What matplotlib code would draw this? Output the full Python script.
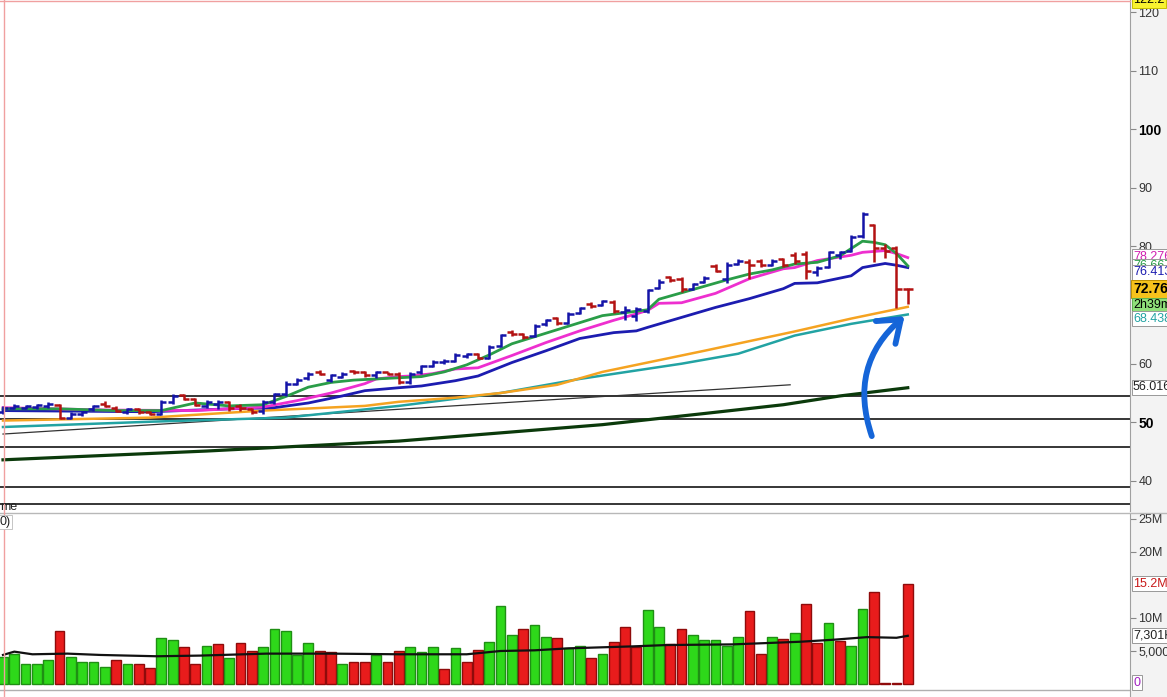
import numpy as np
import matplotlib.pyplot as plt
from matplotlib.patches import FancyArrowPatch

plt.rcParams['font.family'] = ['Liberation Sans', 'DejaVu Sans']

# daily OHLC bars (81 sessions)
opens = [51.8, 52.5, 52.5, 52.6, 52.8, 53.0, 50.8, 51.5, 52.2, 53.2,
         52.5, 51.8, 52.2, 51.8, 51.5, 53.5, 54.6, 54.0, 52.8, 53.2,
         53.5, 52.8, 52.3, 52.0, 53.5, 54.8, 56.5, 57.5, 58.6, 57.2,
         57.8, 58.8, 58.5, 58.0, 58.5, 58.2, 56.8, 58.5, 59.6, 60.3,
         60.5, 61.3, 61.6, 61.0, 63.0, 65.4, 65.0, 64.8, 66.8, 67.8,
         67.0, 68.6, 70.2, 70.0, 70.5, 68.8, 68.2, 69.0, 73.0, 74.8,
         74.5, 72.8, 74.0, 76.6, 74.5, 77.0, 77.4, 77.5, 76.9, 77.8,
         78.5, 78.8, 75.6, 76.5, 78.5, 79.2, 81.8, 83.6, 79.8, 79.8, 72.8]
highs = [52.8, 53.2, 53.0, 53.2, 53.5, 53.2, 51.8, 52.0, 53.0, 53.6,
         52.8, 52.5, 52.5, 52.0, 53.8, 54.8, 54.8, 54.2, 53.8, 53.8,
         53.7, 53.2, 52.5, 53.8, 55.0, 57.0, 57.5, 58.5, 59.0, 58.3,
         58.5, 59.0, 58.7, 58.8, 58.6, 58.5, 58.5, 59.8, 60.6, 60.8,
         61.8, 61.8, 61.8, 63.2, 65.1, 65.7, 65.2, 66.8, 67.6, 68.0,
         68.8, 69.7, 70.5, 70.9, 70.8, 69.9, 69.6, 72.8, 74.4, 75.0,
         74.8, 73.8, 75.0, 77.0, 77.3, 77.8, 77.8, 77.8, 77.9, 78.0,
         79.0, 79.3, 76.6, 79.3, 79.3, 82.0, 85.8, 83.8, 80.5, 80.0, 73.0]
lows = [51.5, 52.2, 52.2, 52.3, 52.5, 50.6, 50.5, 51.0, 52.0, 52.6,
        51.8, 51.5, 51.5, 51.2, 51.2, 53.2, 53.8, 52.8, 52.5, 52.2,
        52.0, 52.0, 51.5, 51.5, 53.2, 54.5, 56.3, 57.3, 58.0, 56.8,
        57.5, 58.2, 57.8, 57.5, 58.0, 56.6, 56.6, 58.3, 59.4, 60.0,
        60.3, 61.0, 60.8, 60.8, 62.8, 64.8, 64.2, 64.6, 66.5, 66.6,
        66.8, 68.4, 69.5, 69.8, 68.7, 67.4, 67.3, 68.7, 72.8, 74.0,
        72.2, 72.6, 73.8, 75.6, 73.8, 76.8, 74.5, 76.5, 76.6, 76.5,
        77.0, 74.5, 75.0, 76.3, 77.8, 79.0, 81.5, 77.4, 78.0, 69.5, 70.2]
closes = [52.5, 52.8, 52.7, 53.0, 53.2, 50.8, 51.5, 51.8, 52.8, 52.8,
          52.0, 52.2, 51.8, 51.5, 53.5, 54.5, 54.0, 53.0, 53.5, 53.5,
          52.5, 52.5, 51.8, 53.5, 54.8, 56.5, 57.3, 58.3, 58.2, 58.0,
          58.3, 58.5, 58.0, 58.5, 58.2, 56.8, 58.3, 59.6, 60.3, 60.5,
          61.5, 61.6, 61.0, 62.9, 64.9, 65.0, 64.5, 66.5, 67.4, 67.0,
          68.5, 69.5, 69.8, 70.7, 69.0, 69.2, 69.3, 72.5, 74.0, 74.2,
          72.7, 73.6, 74.7, 75.9, 76.8, 77.5, 76.8, 76.9, 77.6, 76.8,
          77.6, 75.8, 76.3, 79.0, 79.0, 81.6, 85.5, 79.8, 79.3, 72.8, 72.76]

# volume in millions and bar colour (g = up, r = down)
volume = [4.1, 4.6, 3.1, 3.0, 3.7, 8.1, 4.1, 3.3, 3.4, 2.5,
          3.7, 3.0, 3.1, 2.4, 6.9, 6.6, 5.6, 3.1, 5.7, 6.0,
          3.9, 6.2, 5.0, 5.6, 8.4, 8.1, 4.4, 6.2, 5.0, 4.8,
          3.1, 3.3, 3.3, 4.4, 3.3, 5.0, 5.6, 4.8, 5.6, 2.2,
          5.4, 3.4, 5.1, 6.3, 11.8, 7.4, 8.3, 9.0, 7.1, 6.9,
          5.4, 5.7, 4.0, 4.5, 6.3, 8.7, 5.6, 11.2, 8.7, 6.0,
          8.3, 7.4, 6.6, 6.6, 5.7, 7.1, 11.0, 4.5, 7.1, 6.8,
          7.7, 12.1, 6.2, 9.2, 6.5, 5.7, 11.3, 14.0, 0.1, 0.2, 15.2]
vol_dir = list("gggggrggggrgrrggrrgrgrrgggggrrgrrgrrgggrgrrgggrggrggrgrrrggrrgggggrrgrgrrgrggrrrr")

# moving averages (bar index, value)
ema_fast_x = [0, 5, 10, 14, 17, 20, 23, 25, 27, 29, 31, 33, 35, 37, 39, 41, 43, 45, 47, 49,
              51, 53, 55, 57, 58, 60, 62, 64, 66, 68, 70, 72, 74, 76, 77, 78, 79, 80]
ema_fast = [52.3, 52.3, 52.0, 52.0, 53.3, 52.8, 53.0, 54.4, 56.0, 56.8, 57.2, 57.4, 57.6, 57.8,
            58.6, 59.8, 61.5, 63.4, 64.6, 65.8, 67.0, 68.2, 68.7, 69.2, 71.0, 72.1, 73.2, 74.3,
            75.3, 76.0, 77.0, 77.3, 78.4, 80.9, 80.7, 80.3, 78.8, 76.7]
ema_mid_x = [0, 9, 17, 23, 26, 29, 32, 33, 35, 36, 38, 40, 42, 45, 48, 51, 54, 56, 57, 58,
             60, 63, 66, 69, 70, 72, 73, 75, 76, 78, 79, 80]
ema_mid = [52.5, 52.1, 52.0, 52.6, 53.7, 55.0, 56.6, 57.4, 57.8, 57.9, 58.3, 59.1, 59.3, 61.4,
           63.6, 65.6, 67.4, 68.5, 69.1, 70.3, 70.4, 72.0, 74.5, 76.2, 76.4, 77.6, 77.9, 78.5,
           79.0, 79.3, 78.8, 78.1]
ma_50_x = [0, 13, 20, 24, 27, 30, 32, 35, 37, 40, 42, 45, 48, 51, 54, 56, 57, 60, 63, 66,
           69, 70, 72, 75, 76, 78, 79, 80]
ma_50 = [52.0, 51.8, 52.3, 52.5, 53.3, 54.5, 55.4, 55.9, 56.2, 57.1, 57.9, 60.2, 62.2, 64.3,
         65.3, 65.6, 66.2, 67.9, 69.6, 71.1, 72.8, 73.7, 73.8, 75.0, 76.4, 77.1, 76.8, 76.4]
ma_orange_x = [0, 13, 23, 32, 35, 40, 44, 49, 53, 62, 70, 75, 78, 80]
ma_orange = [50.3, 50.8, 52.0, 52.8, 53.5, 54.2, 55.0, 56.4, 58.6, 62.2, 65.5, 67.7, 68.9, 69.7]
ma_teal_x = [0, 13, 25, 35, 44, 51, 60, 65, 70, 75, 80]
ma_teal = [49.2, 50.1, 50.8, 52.8, 55.0, 57.4, 60.0, 61.7, 64.8, 66.8, 68.4]
ma_200_x = [0, 18, 35, 44, 53, 62, 69, 74, 80]
ma_200 = [43.6, 45.1, 46.8, 48.2, 49.6, 51.5, 53.0, 54.5, 55.9]
vol_ma_x = [0, 1, 2.6, 5.7, 8.6, 13.6, 17.4, 23.3, 29, 35, 41, 44, 47, 50, 55.7, 58.7, 64.5,
            70.5, 73.4, 76.4, 79, 80]
vol_ma = [4.4, 4.9, 4.5, 4.6, 4.4, 4.2, 4.3, 4.6, 4.6, 4.5, 4.5, 5.0, 5.1, 5.4, 5.7, 5.9, 6.0,
          6.4, 6.7, 7.1, 7.0, 7.3]

trend_x = [0, 69.6]
trend_y = [48.0, 56.4]
levels = [54.5, 50.6, 45.8, 39.0, 36.1]

W, H = 1167, 697
fig = plt.figure(figsize=(W / 100, H / 100), dpi=100)
fig.patch.set_facecolor('white')
# light strip behind the price scale
fig.add_artist(plt.Rectangle((1130 / W, 0), 1 - 1130 / W, 1, transform=fig.transFigure,
                             color='#f3f3f3', zorder=0))

ax = fig.add_axes([0, 1 - 511 / H, 1130 / W, 511 / H])
vax = fig.add_axes([0, 0, 1130 / W, 184 / H])

n = len(closes)
xs = np.arange(n)
xlim = (-0.265, 99.65)

for a in (ax, vax):
    a.set_xlim(*xlim)
    a.set_facecolor('white')
    for s in ('top', 'left', 'bottom'):
        a.spines[s].set_visible(False)
    a.spines['right'].set_color('#a0a0a0')
    a.yaxis.tick_right()
    a.tick_params(axis='y', length=4, width=0.8, color='#888888', labelsize=9,
                  labelcolor='#333333', pad=2)
    a.set_xticks([])

# ---- price panel ----
ax.set_ylim(34.87, 122.05)
for lv in levels:
    ax.axhline(lv, color='black', lw=1.1, zorder=1)
ax.plot(trend_x, trend_y, color='#333333', lw=0.9, zorder=2)
ax.plot(ma_200_x, ma_200, color='#0b3a0b', lw=2.3, zorder=2)
ax.plot(ma_teal_x, ma_teal, color='#22a3a3', lw=1.8, zorder=2)
ax.plot(ma_orange_x, ma_orange, color='#f5a321', lw=1.8, zorder=2)
ax.plot(ma_50_x, ma_50, color='#1c1cb0', lw=2.0, zorder=3)
ax.plot(ema_mid_x, ema_mid, color='#ee2fcf', lw=2.0, zorder=3)
ax.plot(ema_fast_x, ema_fast, color='#2a9d48', lw=2.0, zorder=3)

tick = 0.45
for i in range(n):
    c = '#1414a8' if closes[i] >= opens[i] else '#b31212'
    ax.vlines(i, lows[i], highs[i], color=c, lw=1.8, zorder=4)
    ax.hlines(opens[i], i - tick, i, color=c, lw=1.8, zorder=4)
    ax.hlines(closes[i], i, i + tick, color=c, lw=1.8, zorder=4)

ax.set_yticks([40, 50, 60, 80, 90, 100, 110, 120])
ax.set_yticklabels(['40', '50', '60', '80', '90', '100', '110', '120'])
for lab in ax.get_yticklabels():
    if lab.get_text() in ('50', '100'):
        lab.set_fontweight('bold')
        lab.set_fontsize(10)
        lab.set_color('black')

# hand drawn arrow
arrow = FancyArrowPatch((76.9, 47.2), (79.9, 68.4), connectionstyle='arc3,rad=-0.35',
                        arrowstyle='->,head_length=1.2,head_width=0.9', color='#1565d8',
                        lw=4.2, zorder=6, mutation_scale=12)
ax.add_patch(arrow)

# right-hand value labels
tr = ax.get_yaxis_transform()
lx = 1133 / 1130


def tag(a, y, s, fg, bg='white', ec='#999999', bold=False, size=9):
    a.text(lx, y, s, transform=a.get_yaxis_transform(), color=fg, fontsize=size,
           fontweight='bold' if bold else 'normal', va='center', ha='left', clip_on=False,
           bbox=dict(boxstyle='square,pad=0.12', fc=bg, ec=ec, lw=0.7), zorder=10)


tag(ax, 122.0, '122.2', 'black', bg='#f8f230', ec='#c8c000')
tag(ax, 78.28, '78.276', '#d020b0')
tag(ax, 76.667, '76.667', '#2a9d48')
tag(ax, 75.6, '76.413', '#1c1cb0')
tag(ax, 72.76, '72.76', 'black', bg='#f6c21c', ec='#c09000', bold=True, size=10)
tag(ax, 70.0, '2h39m', 'black', bg='#8fe07a', ec='#60b050')
tag(ax, 67.7, '68.438', '#22a3a3')
tag(ax, 56.016, '56.016', '#222222')

fig.text(0, 1 - 507 / H, 'me', fontsize=9, color='#222222', va='center', ha='left')
fig.text(0, 1 - 522 / H, '0)', fontsize=9, color='#222222', va='center', ha='left',
         bbox=dict(boxstyle='square,pad=0.1', fc='white', ec='#bbbbbb', lw=0.6))

# ---- volume panel ----
vax.set_ylim(-1.97, 25.9)
cols = ['#2ed81a' if d == 'g' else '#e81c1c' for d in vol_dir]
edges = ['#1f8f14' if d == 'g' else '#8f0b0b' for d in vol_dir]
vax.bar(xs, volume, width=0.86, color=cols, edgecolor=edges, linewidth=1.0, zorder=3)
vax.plot(vol_ma_x, vol_ma, color='#111111', lw=1.6, zorder=4)
vax.axhline(-0.9, color='#b0b0b0', lw=1.0, zorder=1)
vax.set_yticks([5, 10, 20, 25])
vax.set_yticklabels(['5,000K', '10M', '20M', '25M'])
tag(vax, 15.2, '15.2M', '#c81818')
tag(vax, 7.301, '7,301K', '#222222')
tag(vax, 0.2, '0', '#a020c0')

# panel separators / border accents
fig.add_artist(plt.Line2D([0, 1], [1 - 513 / H] * 2, transform=fig.transFigure,
                          color='#b8b8b8', lw=1.0))
fig.add_artist(plt.Line2D([3.5 / W] * 2, [0, 1], transform=fig.transFigure,
                          color='#f0a0a0', lw=1.0))
fig.add_artist(plt.Line2D([0, 1130 / W], [1 - 0.5 / H] * 2, transform=fig.transFigure,
                          color='#f0a0a0', lw=1.0))

fig.savefig('out.png', dpi=100)
